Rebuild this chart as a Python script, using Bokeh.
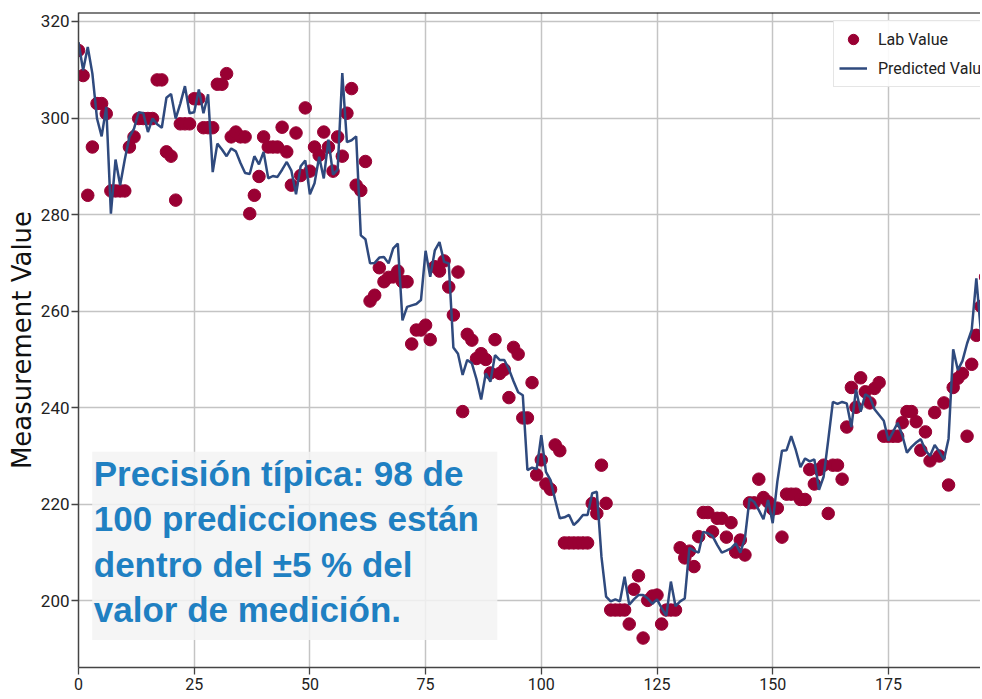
from bokeh.plotting import figure
from bokeh.models import Range1d, SingleIntervalTicker, Legend, LegendItem, BoxAnnotation, Label, Span
from bokeh.embed import file_html
from bokeh.resources import INLINE

sample_index = list(range(197))

lab_value = [
    314.0, 308.8, 284.0, 294.0, 303.0, 303.0, 300.9, 284.9, 284.9, 284.9,
    284.9, 294.0, 296.1, 299.9, 299.9, 299.9, 299.9, 307.9, 307.9, 293.0,
    292.1, 283.0, 298.8, 298.8, 298.8, 304.0, 304.0, 298.0, 298.0, 298.0,
    307.0, 307.0, 309.2, 296.1, 297.1, 296.1, 296.1, 280.2, 284.0, 287.9,
    296.1, 294.0, 294.0, 294.0, 298.1, 293.0, 286.1, 296.9, 288.1, 302.1,
    289.0, 294.0, 292.3, 297.1, 294.0, 289.0, 296.1, 292.1, 301.0, 306.1,
    286.1, 285.0, 291.0, 262.1, 263.3, 269.0, 266.1, 267.0, 267.1, 268.3,
    266.1, 266.1, 253.2, 256.1, 256.1, 257.1, 254.1, 269.2, 268.3, 270.4,
    265.0, 259.2, 268.1, 239.2, 255.2, 254.0, 250.2, 251.2, 250.0, 247.2,
    254.1, 247.1, 247.9, 242.1, 252.5, 251.1, 237.9, 237.9, 245.2, 226.1,
    229.2, 224.2, 223.1, 232.3, 231.1, 212.0, 212.0, 212.0, 212.0, 212.0,
    212.0, 220.2, 218.1, 228.1, 220.2, 198.1, 198.1, 198.1, 198.1, 195.2,
    202.4, 205.2, 192.3, 200.1, 201.0, 201.2, 195.2, 198.1, 198.1, 198.1,
    211.0, 208.9, 210.3, 207.1, 213.3, 218.3, 218.3, 214.3, 217.1, 217.1,
    213.2, 216.2, 210.1, 212.6, 209.5, 220.3, 220.3, 225.2, 221.4, 220.5,
    219.0, 219.2, 213.2, 222.1, 222.1, 222.1, 221.0, 221.0, 227.2, 224.2,
    227.2, 228.1, 218.1, 228.1, 228.1, 225.2, 236.0, 244.2, 240.1, 246.2,
    243.3, 241.0, 244.0, 245.2, 234.1, 234.1, 234.1, 234.1, 236.9, 239.2,
    239.2, 237.1, 231.2, 235.0, 229.0, 239.0, 230.0, 241.0, 224.0, 244.2,
    246.1, 247.1, 234.1, 249.0, 255.0, 261.0, 267.1,
]

predicted_value = [
    315.7, 309.9, 314.7, 309.2, 299.9, 296.2, 302.3, 280.2, 291.4, 286.1,
    291.4, 296.1, 297.8, 301.2, 301.0, 297.1, 299.9, 298.7, 298.0, 304.2,
    305.0, 299.9, 303.0, 306.6, 301.0, 301.2, 305.9, 301.0, 304.9, 288.8,
    294.7, 293.5, 292.1, 293.7, 293.1, 290.7, 288.6, 288.4, 292.1, 290.4,
    293.0, 287.5, 288.0, 287.8, 289.3, 290.9, 289.1, 284.2, 290.0, 291.2,
    284.2, 286.5, 292.0, 287.5, 295.5, 288.3, 289.3, 309.3, 295.0, 295.4,
    296.2, 275.7, 274.9, 269.9, 270.0, 271.1, 271.2, 269.9, 273.0, 274.0,
    258.1, 260.9, 261.2, 261.5, 262.3, 272.5, 267.1, 272.6, 274.3, 270.2,
    269.9, 252.5, 251.2, 246.8, 249.9, 249.2, 245.9, 241.7, 247.1, 245.4,
    250.9, 249.9, 249.9, 248.0, 245.5, 243.2, 242.6, 227.1, 227.6, 227.3,
    234.3, 226.7, 225.0, 220.9, 217.1, 217.3, 217.8, 215.7, 216.6, 217.8,
    217.8, 222.3, 222.6, 209.1, 200.9, 199.9, 200.3, 199.9, 205.0, 199.2,
    200.3, 201.2, 201.2, 200.5, 199.4, 200.3, 198.5, 196.9, 204.0, 198.9,
    199.9, 200.5, 211.0, 210.4, 210.0, 214.3, 214.0, 213.4, 211.6, 210.0,
    210.4, 210.9, 211.9, 210.0, 213.0, 221.2, 220.5, 218.8, 216.9, 220.9,
    216.1, 224.7, 231.1, 231.2, 234.1, 231.2, 227.7, 229.5, 228.9, 229.3,
    223.0, 225.7, 233.3, 241.2, 240.8, 241.2, 240.9, 236.0, 243.8, 239.2,
    242.8, 242.2, 239.7, 238.5, 237.3, 233.2, 235.0, 236.9, 234.3, 230.7,
    231.9, 232.8, 233.5, 231.2, 230.0, 232.3, 230.9, 229.2, 233.6, 252.1,
    247.8, 249.7, 253.3, 256.1, 266.8, 255.5, 256.1,
]

series_names = ["Lab Value", "Predicted Value"]
axis_title = "Measurement Value"
note_lines = [
    "Precisión típica: 98 de",
    "100 predicciones están",
    "dentro del  ±5 % del",
    "valor de medición.",
]

p = figure(width=980, height=696, output_backend="svg", toolbar_location=None,
           x_range=Range1d(0, 194.9), y_range=Range1d(186.2, 321.86),
           min_border_left=78, min_border_top=12, min_border_bottom=29, min_border_right=0)
p.outline_line_color = None
p.background_fill_color = "white"
p.border_fill_color = "white"

tick_font = "Roboto"
for ax in (p.xaxis[0], p.yaxis[0]):
    ax.axis_line_color = "#444444"
    ax.axis_line_width = 1.5
    ax.major_tick_line_color = "#444444"
    ax.major_tick_line_width = 1.3
    ax.major_tick_in = 0
    ax.minor_tick_line_color = None
    ax.major_label_text_font = tick_font
    ax.major_label_text_color = "#222222"

p.xaxis[0].ticker = SingleIntervalTicker(interval=25)
p.yaxis[0].ticker = SingleIntervalTicker(interval=20)
p.xaxis[0].major_label_text_font_size = "16px"
p.yaxis[0].major_label_text_font_size = "17px"
p.xaxis[0].major_tick_out = 7
p.xaxis[0].major_label_standoff = 3
p.yaxis[0].major_tick_out = 7
p.yaxis[0].major_label_standoff = 2

p.yaxis[0].axis_label = axis_title
p.yaxis[0].axis_label_text_font = "DejaVu Sans"
p.yaxis[0].axis_label_text_font_size = "26px"
p.yaxis[0].axis_label_text_font_style = "normal"
p.yaxis[0].axis_label_text_color = "#111111"
p.yaxis[0].axis_label_standoff = 1

p.xgrid.grid_line_color = "#c4c4c4"
p.ygrid.grid_line_color = "#c4c4c4"
p.xgrid.grid_line_width = 1.5
p.ygrid.grid_line_width = 1.5

p.add_layout(Span(location=321.8, dimension="width", line_color="black", line_width=1.5))

dots = p.scatter(sample_index, lab_value, size=12.5, fill_color="#990033", line_color="#990033")
line = p.line(sample_index, predicted_value, line_color="#2f4a7e", line_width=2.5)

legend = Legend(items=[LegendItem(label=series_names[0], renderers=[dots]),
                       LegendItem(label=series_names[1], renderers=[line])],
                location=(755, 580))
legend.label_text_font = tick_font
legend.label_text_font_size = "16px"
legend.label_text_color = "#222222"
legend.glyph_width = 28
legend.glyph_height = 26
legend.label_height = 26
legend.label_standoff = 11
legend.padding = 5
legend.spacing = 3
legend.border_line_color = "#cccccc"
legend.border_line_width = 1.2
legend.background_fill_color = "white"
legend.background_fill_alpha = 0.9
p.add_layout(legend, "center")

box = BoxAnnotation(left=2.96, right=90.5, top=230.9, bottom=191.9,
                    fill_color="#f3f3f3", fill_alpha=0.85, line_alpha=0)
p.add_layout(box)

note = Label(x=3.3, y=230.4, text="\n".join(note_lines),
             text_font="Liberation Sans", text_font_style="bold",
             text_font_size="35px", text_color="#1f80c2",
             text_baseline="top", text_align="left", text_line_height=1.16)
p.add_layout(note)

open("out.html", "w").write(file_html(p, INLINE))
